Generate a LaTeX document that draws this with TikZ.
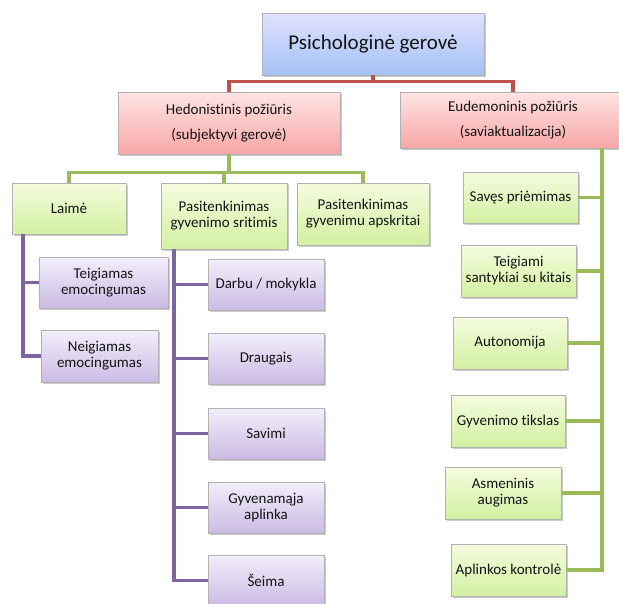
\documentclass[tikz,border=0pt]{standalone}
\usepackage{fontspec}
\setmainfont{Carlito}[Ligatures=NoCommon]
\usetikzlibrary{shadows}
\definecolor{redline}{HTML}{C0504D}
\definecolor{greenline}{HTML}{9BBB59}
\definecolor{purpleline}{HTML}{8064A2}
\definecolor{boxtext}{HTML}{141414}
\begin{document}
\begin{tikzpicture}[x=1pt, y=-1pt,
		box/.style={draw=black!30, line width=0.6pt, align=center, text=boxtext,
			inner sep=2pt, font=\fontsize{15}{16}\selectfont,
			drop shadow={shadow xshift=1.5pt, shadow yshift=-1.5pt, opacity=0.35, fill=black!60}},
		bluebox/.style={box, top color=blue!12!white, bottom color={rgb,255:red,163;green,193;blue,243}},
		redbox/.style={box, top color={rgb,255:red,255;green,228;blue,228}, bottom color={rgb,255:red,247;green,166;blue,166}},
		greenbox/.style={box, top color={rgb,255:red,244;green,251;blue,222}, bottom color={rgb,255:red,211;green,240;blue,162}},
		purplebox/.style={box, top color={rgb,255:red,242;green,238;blue,250}, bottom color={rgb,255:red,203;green,187;blue,228}},
		link/.style={line width=3.5pt}]
		\useasboundingbox (0,0) rectangle (619,603);
		% top level
		\node [bluebox, minimum width=222pt, minimum height=62pt, font=\fontsize{21}{25}\selectfont] (gerove) at (373,44) {Psichologinė gerovė};
		\node [redbox, minimum width=222pt, minimum height=62pt, font=\fontsize{15}{25}\selectfont] (hedon) at (229,123) {Hedonistinis požiūris\\(subjektyvi gerovė)};
		\node [redbox, minimum width=226pt, minimum height=56pt, font=\fontsize{15}{25}\selectfont] (eudem) at (513,120) {Eudemoninis požiūris\\(saviaktualizacija)};
		% hedonistic branch
		\node [greenbox, minimum width=114pt, minimum height=51pt] (laime) at (69,208.5) {Laimė};
		\node [greenbox, minimum width=126pt, minimum height=66pt] (sritys) at (224,216) {Pasitenkinimas\\gyvenimo sritimis};
		\node [greenbox, minimum width=132pt, minimum height=62pt] (apskr) at (363,214) {Pasitenkinimas\\gyvenimu apskritai};
		\node [purplebox, minimum width=129pt, minimum height=51pt] (teig) at (103.5,282.5) {Teigiamas\\emocingumas};
		\node [purplebox, minimum width=117pt, minimum height=52pt] (neig) at (99.5,356) {Neigiamas\\emocingumas};
		\node [purplebox, minimum width=116pt, minimum height=51pt] (darbas) at (266,284.5) {Darbu / mokykla};
		\node [purplebox, minimum width=116pt, minimum height=51pt] (draug) at (266,358.5) {Draugais};
		\node [purplebox, minimum width=116pt, minimum height=51pt] (savimi) at (266,433.5) {Savimi};
		\node [purplebox, minimum width=116pt, minimum height=51pt] (aplinka) at (266,507.5) {Gyvenamąja\\aplinka};
		\node [purplebox, minimum width=116pt, minimum height=51pt] (seima) at (266,580.5) {Šeima};
		% eudemonic branch
		\node [greenbox, minimum width=115pt, minimum height=51pt] (prim) at (520.5,197.5) {Savęs priėmimas};
		\node [greenbox, minimum width=115pt, minimum height=52pt] (sant) at (518.5,271) {Teigiami\\santykiai su kitais};
		\node [greenbox, minimum width=114pt, minimum height=52pt] (auto) at (510,343) {Autonomija};
		\node [greenbox, minimum width=114pt, minimum height=52pt] (tiksl) at (508,421) {Gyvenimo tikslas};
		\node [greenbox, minimum width=116pt, minimum height=52pt] (augim) at (503,493) {Asmeninis\\augimas};
		\node [greenbox, minimum width=115pt, minimum height=52pt] (kontr) at (508.5,570) {Aplinkos kontrolė};
		% connectors
		\draw [link, redline] (gerove.south) -- ++(0,6) -| (hedon.north);
		\draw [link, redline] (gerove.south) -- ++(0,6) -| (eudem.north);
		\draw [link, greenline] (hedon.south) -- ++(0,18) -| (laime.north);
		\draw [link, greenline] (hedon.south) -- ++(0,18) -| (sritys.north);
		\draw [link, greenline] (hedon.south) -- ++(0,18) -| (apskr.north);
		\coordinate (laimeroot) at ([xshift=-46pt]laime.south);
		\draw [link, purpleline] (laimeroot) |- (teig.west);
		\draw [link, purpleline] (laimeroot) |- (neig.west);
		\coordinate (sritysroot) at ([xshift=-50pt]sritys.south);
		\foreach \n in {darbas, draug, savimi, aplinka, seima}
			\draw [link, purpleline] (sritysroot) |- (\n.west);
		\coordinate (eudemroot) at ([xshift=89pt]eudem.south);
		\foreach \n in {prim, sant, auto, tiksl, augim, kontr}
			\draw [link, greenline] (eudemroot) |- (\n.east);
	\end{tikzpicture}
\end{document}
